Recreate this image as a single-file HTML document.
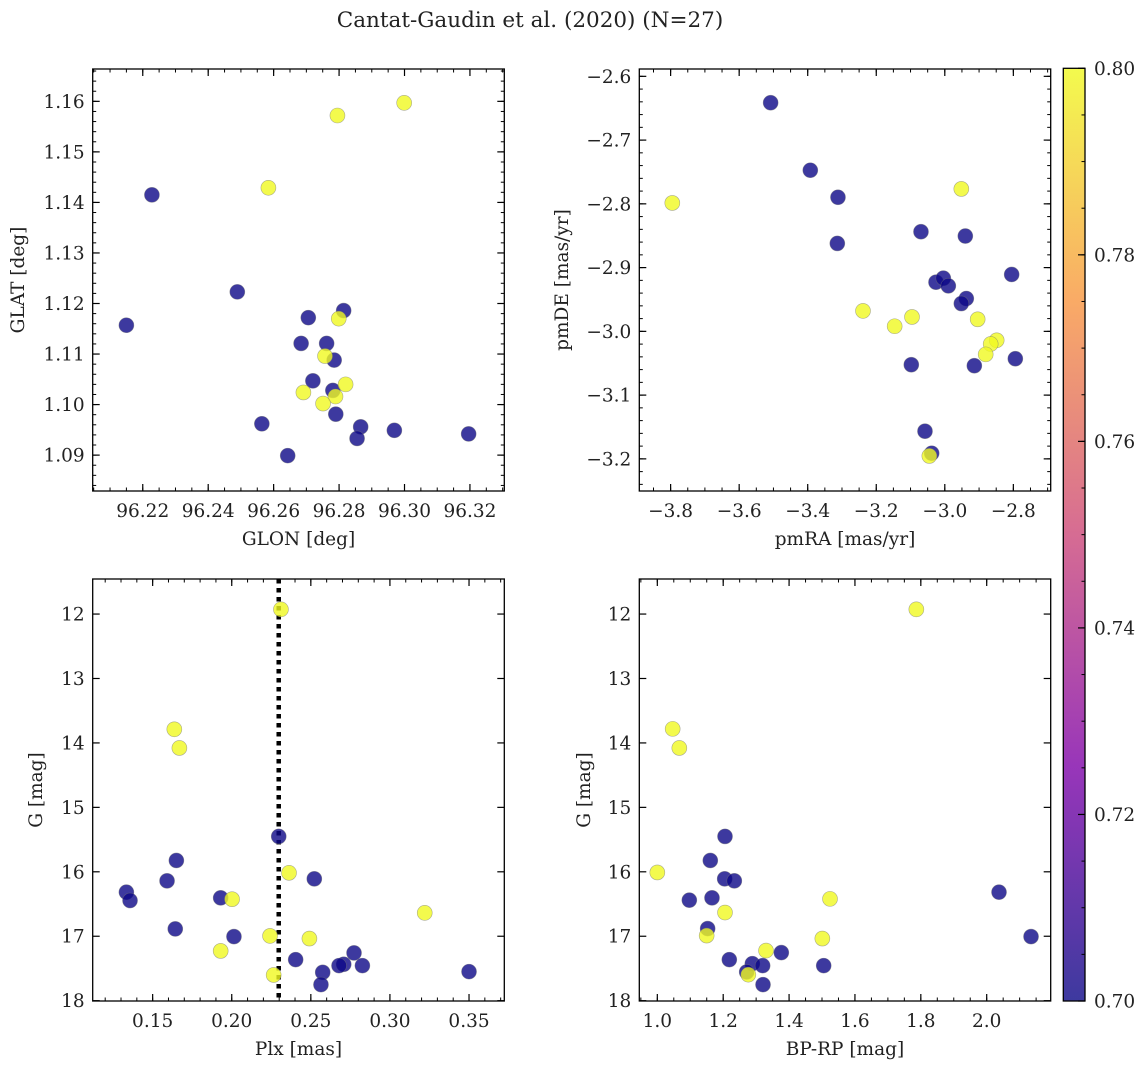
<!DOCTYPE html>
<html><head><meta charset="utf-8"><style>
body{margin:0;background:#fff;}
svg text{font-family:"DejaVu Serif","Liberation Serif",serif;fill:#222;}
</style></head><body>
<svg id="fig" width="1148" height="1068" viewBox="0 0 1148 1068" xmlns="http://www.w3.org/2000/svg">
<defs><linearGradient id="plasma" x1="0" y1="1" x2="0" y2="0">
<stop offset="0" stop-color="#0d0887"/><stop offset="0.25" stop-color="#7e03a8"/><stop offset="0.5" stop-color="#cc4778"/><stop offset="0.75" stop-color="#f89540"/><stop offset="1" stop-color="#f0f921"/></linearGradient></defs>
<text x="530" y="27" font-size="21.5" text-anchor="middle">Cantat-Gaudin et al. (2020) (N=27)</text>
</svg>
<script>
// Panel 1: GLON / GLAT
const p1x=[96.2228,96.2150,96.2489,96.2706,96.2814,96.2684,96.2762,96.2785,96.2720,96.2781,96.2790,96.2564,96.2866,96.2855,96.2969,96.3196,96.2643,96.2999,96.2795,96.2584,96.2799,96.2757,96.2820,96.2691,96.2789,96.2751];
const p1y=[1.1415,1.1157,1.1223,1.1172,1.1186,1.1121,1.1121,1.1088,1.1047,1.1028,1.0981,1.0962,1.0956,1.0933,1.0949,1.0942,1.0899,1.1597,1.1572,1.1429,1.1170,1.1096,1.1040,1.1024,1.1016,1.1002];
const p1c=[0.7,0.7,0.7,0.7,0.7,0.7,0.7,0.7,0.7,0.7,0.7,0.7,0.7,0.7,0.7,0.7,0.7,0.8,0.8,0.8,0.8,0.8,0.8,0.8,0.8,0.8];
const p1xt=["96.22","96.24","96.26","96.28","96.30","96.32"];
const p1yt=["1.09","1.10","1.11","1.12","1.13","1.14","1.15","1.16"];
// Panel 2: pmRA / pmDE
const p2x=[-3.5082,-3.3924,-3.3117,-3.3136,-3.0695,-2.9401,-2.8049,-3.0257,-3.0043,-2.9897,-2.9372,-2.9518,-3.0977,-2.9138,-2.7942,-3.0578,-3.0383,-3.7951,-2.9518,-3.2387,-3.1463,-3.0957,-2.9041,-2.8486,-2.8661,-2.8807,-3.0451];
const p2y=[-2.6414,-2.7473,-2.7897,-2.8621,-2.8437,-2.8505,-2.9108,-2.9229,-2.9166,-2.9286,-2.9485,-2.9564,-3.0523,-3.0539,-3.0429,-3.1566,-3.1912,-2.7986,-2.7766,-2.9679,-2.9920,-2.9774,-2.9811,-3.0140,-3.0198,-3.0361,-3.1954];
const p2c=[0.7,0.7,0.7,0.7,0.7,0.7,0.7,0.7,0.7,0.7,0.7,0.7,0.7,0.7,0.7,0.7,0.7,0.8,0.8,0.8,0.8,0.8,0.8,0.8,0.8,0.8,0.8];
const p2xt=["−3.8","−3.6","−3.4","−3.2","−3.0","−2.8"];
const p2yt=["−3.2","−3.1","−3.0","−2.9","−2.8","−2.7","−2.6"];
// Panel 3: Plx / G
const p3x=[0.2297,0.1650,0.1591,0.2522,0.1334,0.1357,0.1930,0.1643,0.2014,0.2773,0.2404,0.2708,0.2678,0.2826,0.2575,0.3500,0.2564,0.2311,0.1637,0.1669,0.2362,0.2002,0.3220,0.2242,0.2491,0.1930,0.2265];
const p3y=[15.451,15.824,16.140,16.109,16.316,16.446,16.404,16.886,17.005,17.259,17.363,17.435,17.456,17.456,17.560,17.549,17.751,11.927,13.788,14.078,16.016,16.425,16.637,16.995,17.036,17.228,17.601];
const p3c=[0.7,0.7,0.7,0.7,0.7,0.7,0.7,0.7,0.7,0.7,0.7,0.7,0.7,0.7,0.7,0.7,0.7,0.8,0.8,0.8,0.8,0.8,0.8,0.8,0.8,0.8,0.8];
const p3xt=["0.15","0.20","0.25","0.30","0.35"];
const p3yt=["12","13","14","15","16","17","18"];
const plxRef=[0.2297];
// Panel 4: BP-RP / G
const p4x=[1.2055,1.1609,1.2045,1.2338,1.0972,1.1660,2.0374,1.1528,2.1346,1.3765,1.2186,1.2885,1.3198,1.2713,1.5051,1.3209,1.7864,1.0466,1.0668,1.0000,1.5243,1.2055,1.1498,1.5010,1.3300,1.2763];
const p4y=[15.451,15.824,16.109,16.140,16.440,16.404,16.316,16.881,17.005,17.254,17.363,17.425,17.456,17.554,17.456,17.751,11.927,13.782,14.078,16.010,16.420,16.632,16.990,17.036,17.223,17.596];
const p4c=[0.7,0.7,0.7,0.7,0.7,0.7,0.7,0.7,0.7,0.7,0.7,0.7,0.7,0.7,0.7,0.7,0.8,0.8,0.8,0.8,0.8,0.8,0.8,0.8,0.8,0.8];
const p4xt=["1.0","1.2","1.4","1.6","1.8","2.0"];
const p4yt=["12","13","14","15","16","17","18"];
const cbTicks=["0.70","0.72","0.74","0.76","0.78","0.80"];

const NS="http://www.w3.org/2000/svg";
const svg=document.getElementById('fig');
const FS=18.5;
function mk(tag,attrs,parent){const e=document.createElementNS(NS,tag);for(const k in attrs)e.setAttribute(k,attrs[k]);(parent||svg).appendChild(e);return e;}
function num(s){return parseFloat(s.replace('−','-'));}
const stops=[[0,[13,8,135]],[0.25,[126,3,168]],[0.5,[204,71,120]],[0.75,[248,149,64]],[1,[240,249,33]]];
function cmap(v){let t=Math.max(0,Math.min(1,(v-0.7)/0.1));for(let i=1;i<stops.length;i++){if(t<=stops[i][0]){const a=stops[i-1],b=stops[i];const f=(t-a[0])/(b[0]-a[0]);const c=a[1].map((q,j)=>Math.round(q+(b[1][j]-q)*f));return `rgb(${c})`;}}return 'rgb(240,249,33)';}

function panel(o){
  const sx=v=>o.L+(v-o.x0)/(o.x1-o.x0)*(o.R-o.L);
  const sy=v=>o.B-(v-o.y0)/(o.y1-o.y0)*(o.B-o.T);
  const g=mk('g',{});
  
  
  const eps=1e-9;
  for(let v=Math.ceil(o.x0/o.xm-eps)*o.xm;v<=o.x1+eps;v+=o.xm){const x=sx(v);mk('line',{x1:x,x2:x,y1:o.B,y2:o.B-3.5,stroke:'#000','stroke-width':1},g);mk('line',{x1:x,x2:x,y1:o.T,y2:o.T+3.5,stroke:'#000','stroke-width':1},g);}
  for(let v=Math.ceil(o.y0/o.ym-eps)*o.ym;v<=o.y1+eps;v+=o.ym){const y=sy(v);mk('line',{x1:o.L,x2:o.L+3.5,y1:y,y2:y,stroke:'#000','stroke-width':1},g);mk('line',{x1:o.R,x2:o.R-3.5,y1:y,y2:y,stroke:'#000','stroke-width':1},g);}
  o.xt.forEach(s=>{const x=sx(num(s));
    mk('line',{x1:x,x2:x,y1:o.B,y2:o.B-7,stroke:'#000','stroke-width':1.2},g);mk('line',{x1:x,x2:x,y1:o.T,y2:o.T+7,stroke:'#000','stroke-width':1.2},g);
    const t=mk('text',{x:x,y:o.B+26,'font-size':FS,'text-anchor':'middle'},g);t.textContent=s;
    
    });
  o.yt.forEach(s=>{const y=sy(num(s));
    mk('line',{x1:o.L,x2:o.L+7,y1:y,y2:y,stroke:'#000','stroke-width':1.2},g);mk('line',{x1:o.R,x2:o.R-7,y1:y,y2:y,stroke:'#000','stroke-width':1.2},g);
    const t=mk('text',{x:o.L-8,y:y+6.5,'font-size':FS,'text-anchor':'end'},g);t.textContent=s;
    
    });
  const cl='clip'+o.name;const cp=mk('clipPath',{id:cl},g);mk('rect',{x:o.L,y:o.T,width:o.R-o.L,height:o.B-o.T},cp);
  const pg=mk('g',{'clip-path':`url(#${cl})`},g);
  if(o.vline){o.vline.forEach(v=>{const l=mk('line',{x1:sx(v),x2:sx(v),y1:o.T,y2:o.B,stroke:'#000','stroke-width':4.5,'stroke-dasharray':'4.5 4.5'},pg);
    
    });}
  o.xs.forEach((v,i)=>{const c=mk('circle',{cx:sx(v),cy:sy(o.ys[i]),r:7.5,fill:cmap(o.cs[i]),'fill-opacity':0.8,stroke:'#777','stroke-opacity':0.6,'stroke-width':0.6},pg);
    
    });
  mk('rect',{x:o.L,y:o.T,width:o.R-o.L,height:o.B-o.T,fill:'none',stroke:'#000','stroke-width':1.3},g);
  const xl=mk('text',{x:(o.L+o.R)/2,y:o.B+54,'font-size':FS,'text-anchor':'middle'},g);xl.textContent=o.xlab;
  
  
  const yx=o.ylx,yy=(o.T+o.B)/2;
  const yl=mk('text',{x:yx,y:yy,'font-size':FS,'text-anchor':'middle',transform:`rotate(-90 ${yx} ${yy})`},g);yl.textContent=o.ylab;
  
  
}
panel({name:'panel-glon-glat',L:92.7,R:504.3,T:69,B:491,x0:96.2047,x1:96.3305,y0:1.0829,y1:1.1664,xm:0.005,ym:0.002,xt:p1xt,yt:p1yt,xs:p1x,ys:p1y,cs:p1c,xlab:'GLON [deg]',ylab:'GLAT [deg]',ylx:24});
panel({name:'panel-pmra-pmde',L:639.3,R:1050.7,T:69,B:491,x0:-3.8914,x1:-2.691,y0:-3.2504,y1:-2.5885,xm:0.05,ym:0.02,xt:p2xt,yt:p2yt,xs:p2x,ys:p2y,cs:p2c,xlab:'pmRA [mas/yr]',ylab:'pmDE [mas/yr]',ylx:568});
panel({name:'panel-plx-g',L:92.7,R:504.3,T:579,B:1001,x0:0.1121,x1:0.3723,y0:18.005,y1:11.456,xm:0.01,ym:0.2,xt:p3xt,yt:p3yt,xs:p3x,ys:p3y,cs:p3c,xlab:'Plx [mas]',ylab:'G [mag]',ylx:42,vline:plxRef});
panel({name:'panel-color-g',L:639.3,R:1050.7,T:579,B:1001,x0:0.9453,x1:2.1943,y0:18.005,y1:11.456,xm:0.05,ym:0.2,xt:p4xt,yt:p4yt,xs:p4x,ys:p4y,cs:p4c,xlab:'BP-RP [mag]',ylab:'G [mag]',ylx:590});

// colorbar
(function(){
  const L=1063.3,R=1085,T=68.3,B=1001;
  const g=mk('g',{});
  
  
  mk('rect',{x:L,y:T,width:R-L,height:B-T,fill:'url(#plasma)','fill-opacity':0.8},g);
  const sy=v=>B-(v-0.7)/0.1*(B-T);
  for(let i=0;i<=20;i++){const v=0.7+i*0.005;const y=sy(v);mk('line',{x1:R,x2:R-3.5,y1:y,y2:y,stroke:'#000','stroke-width':1},g);}
  cbTicks.forEach(s=>{const y=sy(num(s));mk('line',{x1:R,x2:R-7,y1:y,y2:y,stroke:'#000','stroke-width':1.2},g);
    const t=mk('text',{x:R+9,y:y+6.5,'font-size':FS},g);t.textContent=s;
    
    });
  mk('rect',{x:L,y:T,width:R-L,height:B-T,fill:'none',stroke:'#000','stroke-width':1.3},g);
})();
</script>
</body></html>
